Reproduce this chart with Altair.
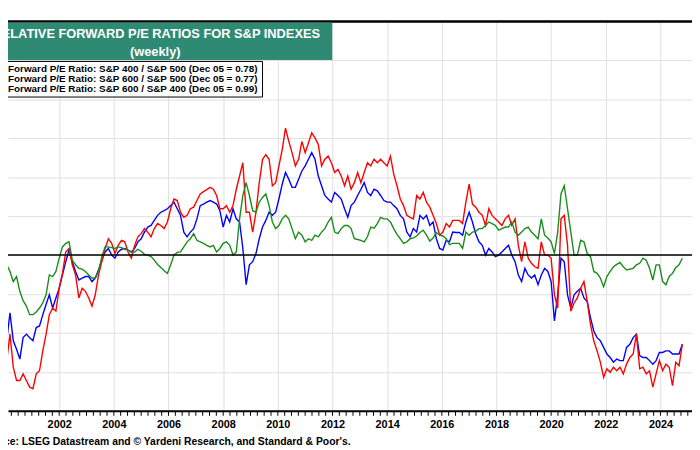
import altair as alt
import pandas as pd

series_names = [
    "Forward P/E Ratio: S&P 400 / S&P 500 (Dec 05 = 0.78)",
    "Forward P/E Ratio: S&P 600 / S&P 500 (Dec 05 = 0.77)",
    "Forward P/E Ratio: S&P 600 / S&P 400 (Dec 05 = 0.99)",
]
series_colors = ["#0000ff", "#ff0000", "#1a8c1a"]

start_year = 1999.84
step_years = 0.12

blue = [
    0.763, 0.733, 0.780, 0.852, 0.780, 0.758, 0.733, 0.788, 0.797, 0.788,
    0.780, 0.814, 0.818, 0.847, 0.873, 0.898, 0.864, 0.890, 0.915, 0.949,
    0.983, 1.013, 0.983, 0.958, 0.936, 0.941, 0.945, 0.945, 0.932, 0.941,
    0.962, 0.987, 1.008, 1.017, 1.000, 0.992, 1.008, 1.015, 1.017, 1.013,
    1.008, 1.017, 1.034, 1.042, 1.059, 1.072, 1.076, 1.089, 1.102, 1.110,
    1.114, 1.119, 1.127, 1.136, 1.119, 1.102, 1.059, 1.047, 1.059, 1.068,
    1.093, 1.127, 1.131, 1.136, 1.140, 1.136, 1.131, 1.114, 1.072,
    1.102, 1.085, 1.119, 1.093, 1.085, 1.017, 0.924, 0.975, 0.983, 1.004,
    1.042, 1.072, 1.089, 1.110, 1.102, 1.110, 1.144, 1.182, 1.212, 1.195,
    1.174, 1.174, 1.195, 1.216, 1.229, 1.246, 1.263, 1.246, 1.203, 1.178,
    1.153, 1.144, 1.136, 1.161, 1.153, 1.144, 1.119, 1.097, 1.127, 1.136,
    1.153, 1.169, 1.186, 1.161, 1.153, 1.169, 1.165, 1.153, 1.140, 1.136,
    1.136, 1.127, 1.119, 1.102, 1.093, 1.059, 1.047, 1.068, 1.059, 1.102,
    1.093, 1.102, 1.076, 1.085, 1.042, 1.017, 1.013, 1.038, 1.034, 1.059,
    1.058, 1.058, 1.051, 1.085, 1.110, 1.085, 1.055, 1.034, 1.025, 1.000,
    1.017, 1.008, 0.996, 1.000, 1.008, 1.017, 1.025, 1.000, 0.983, 0.949,
    0.932, 0.966, 0.949, 0.941, 0.949, 0.924, 0.949, 0.966, 0.958, 0.932,
    0.831, 0.898, 0.992, 0.983, 0.898, 0.864, 0.898, 0.907, 0.915, 0.890,
    0.881, 0.839, 0.805, 0.788, 0.780, 0.763, 0.746, 0.737, 0.725, 0.733,
    0.729, 0.729, 0.763, 0.771, 0.788, 0.797, 0.742, 0.737, 0.737, 0.729,
    0.720, 0.729, 0.750, 0.750, 0.754, 0.754, 0.746, 0.746, 0.746, 0.771,
]

red = [
    0.678, 0.661, 0.729, 0.797, 0.712, 0.678, 0.678, 0.695, 0.678, 0.661,
    0.657, 0.695, 0.703, 0.754, 0.797, 0.847, 0.864, 0.856, 0.915, 0.953,
    1.008, 1.017, 0.975, 0.949, 0.890, 0.915, 0.907, 0.890, 0.869, 0.898,
    0.949, 0.983, 1.017, 1.042, 1.030, 1.004, 1.025, 1.038, 1.034, 1.008,
    0.992, 1.025, 1.047, 1.055, 1.068, 1.059, 1.047, 1.068, 1.081, 1.076,
    1.068, 1.085, 1.119, 1.144, 1.140, 1.110, 1.097, 1.102, 1.119, 1.123,
    1.140, 1.157, 1.163, 1.168, 1.174, 1.169, 1.153, 1.119, 1.119,
    1.127, 1.110, 1.127, 1.169, 1.203, 1.237, 1.110, 1.110, 1.059, 1.110,
    1.186, 1.246, 1.258, 1.246, 1.178, 1.186, 1.229, 1.271, 1.326, 1.292,
    1.263, 1.229, 1.246, 1.292, 1.263, 1.288, 1.314, 1.301, 1.284, 1.229,
    1.246, 1.254, 1.237, 1.212, 1.220, 1.203, 1.178, 1.203, 1.169, 1.186,
    1.212, 1.186, 1.212, 1.237, 1.229, 1.246, 1.237, 1.246, 1.237, 1.229,
    1.254, 1.208, 1.178, 1.144, 1.127, 1.102, 1.097, 1.093, 1.153, 1.144,
    1.161, 1.136, 1.123, 1.102, 1.081, 1.051, 1.059, 1.081, 1.072, 1.089,
    1.089, 1.089, 1.081, 1.136, 1.182, 1.131, 1.123, 1.110, 1.102, 1.076,
    1.119, 1.102, 1.093, 1.085, 1.076, 1.093, 1.102, 1.076, 1.093, 1.025,
    0.983, 1.034, 0.992, 0.979, 0.970, 0.966, 1.034, 1.000, 1.000, 0.992,
    0.898, 0.864, 1.093, 1.102, 1.025, 0.856, 0.877, 0.890, 0.915, 0.932,
    0.881, 0.822, 0.780, 0.754, 0.725, 0.686, 0.708, 0.699, 0.712, 0.703,
    0.712, 0.695, 0.720, 0.737, 0.746, 0.797, 0.708, 0.712, 0.695, 0.703,
    0.661, 0.695, 0.729, 0.703, 0.720, 0.712, 0.665, 0.725, 0.716, 0.771,
]

green = [
    0.898, 0.915, 0.975, 0.958, 0.932, 0.945, 0.907, 0.883, 0.869, 0.847,
    0.847, 0.854, 0.864, 0.877, 0.898, 0.949, 0.945, 0.958, 0.992, 1.021,
    1.030, 1.034, 0.987, 0.975, 0.966, 0.964, 0.958, 0.949, 0.941, 0.941,
    0.958, 0.996, 1.021, 1.021, 1.019, 1.017, 1.021, 1.019, 1.015, 1.013,
    1.007, 1.008, 1.015, 1.010, 1.002, 1.000, 0.996, 0.987, 0.976, 0.968,
    0.960, 0.953, 0.975, 1.000, 1.007, 1.008, 1.021, 1.034, 1.042, 1.055,
    1.038, 1.034, 1.030, 1.025, 1.021, 1.025, 1.008, 1.017, 1.030,
    1.034, 1.025, 1.000, 1.008, 1.093, 1.153, 1.186, 1.153, 1.114, 1.110,
    1.136, 1.148, 1.157, 1.127, 1.085, 1.068, 1.076, 1.093, 1.102, 1.093,
    1.068, 1.042, 1.059, 1.051, 1.034, 1.042, 1.038, 1.051, 1.047, 1.059,
    1.068, 1.085, 1.097, 1.059, 1.055, 1.068, 1.076, 1.076, 1.068, 1.042,
    1.040, 1.038, 1.034, 1.047, 1.072, 1.069, 1.081, 1.097, 1.093, 1.093,
    1.085, 1.068, 1.053, 1.042, 1.030, 1.034, 1.042, 1.044, 1.049, 1.058,
    1.064, 1.051, 1.036, 1.044, 1.058, 1.051, 1.049, 1.042, 1.027, 1.030,
    1.030, 1.030, 1.017, 1.059, 1.051, 1.059, 1.061, 1.068, 1.068, 1.076,
    1.085, 1.081, 1.076, 1.064, 1.068, 1.072, 1.072, 1.085, 1.059, 1.051,
    1.059, 1.068, 1.072, 1.059, 1.051, 1.042, 1.093, 1.051, 1.044, 1.034,
    1.004, 1.059, 1.157, 1.178, 1.119, 1.059, 1.000, 1.000, 1.038, 1.034,
    1.004, 0.996, 0.958, 0.953, 0.941, 0.919, 0.945, 0.958, 0.970, 0.976,
    0.981, 0.970, 0.962, 0.964, 0.966, 0.975, 0.979, 0.992, 0.987, 0.966,
    0.936, 0.975, 0.975, 0.932, 0.924, 0.945, 0.953, 0.968, 0.975, 0.992,
]

year_labels = list(range(2000, 2025, 2))
quarter_ticks = [2000 + q / 4 for q in range(1, 101)]
grid_values = [0.6, 0.7, 0.8, 0.9, 1.0, 1.1, 1.2, 1.3, 1.4, 1.5, 1.6]
reference_value = [1.0]

title_line1 = "RELATIVE FORWARD P/E RATIOS FOR S&P INDEXES"
title_line2 = "(weekly)"
source_text = "Source: LSEG Datastream and \u00a9 Yardeni Research, and Standard & Poor's."

FONT = "Liberation Sans"
W, H = 692, 394

n = min(len(blue), len(red), len(green))
years = [round(start_year + step_years * i, 3) for i in range(n)]
rows = []
for name, vals in zip(series_names, [blue, red, green]):
    for t, v in zip(years, vals[:n]):
        rows.append({"t": t, "v": v, "series": name})
df = pd.DataFrame(rows)

xscale = alt.Scale(domain=[2000.127, 2025.154], nice=False, zero=False)
yscale = alt.Scale(domain=[0.6, 1.6], nice=False, zero=False)

x_axis = alt.Axis(
    values=year_labels, format="d", title=None, grid=True,
    gridColor="#e0e0e0", gridWidth=1, labelFont=FONT, labelFontSize=11,
    labelFontWeight="bold", labelColor="black", domainColor="black",
    domainWidth=2, ticks=False, labelPadding=8, labelFlush=False,
    labelOverlap=False,
)
y_axis = alt.Axis(
    values=grid_values, labels=False, ticks=False, domain=False,
    title=None, grid=True, gridColor="#e0e0e0", gridWidth=1,
)

lines = alt.Chart(df).mark_line(strokeWidth=1.4, clip=True).encode(
    x=alt.X("t:Q", scale=xscale, axis=x_axis),
    y=alt.Y("v:Q", scale=yscale, axis=y_axis),
    color=alt.Color(
        "series:N",
        scale=alt.Scale(domain=series_names, range=series_colors),
        sort=series_names,
        legend=alt.Legend(
            title=None, orient="none", legendX=-16, legendY=40,
            direction="vertical", symbolType="stroke", symbolSize=49,
            symbolStrokeWidth=2, labelFont=FONT, labelFontSize=10,
            labelFontWeight="bold", labelColor="black", labelOffset=3,
            rowPadding=0, padding=3, strokeColor="black", fillColor="white",
            labelLimit=400,
        ),
    ),
)

ref_rule = alt.Chart(pd.DataFrame({"v": reference_value})).mark_rule(
    color="black", strokeWidth=1.5
).encode(y=alt.Y("v:Q", scale=yscale, axis=y_axis))

qtick = alt.Chart(pd.DataFrame({"t": quarter_ticks})).mark_rule(
    color="black", strokeWidth=1
).encode(
    x=alt.X("t:Q", scale=xscale, axis=x_axis),
    y=alt.value(H),
    y2=alt.value(H + 5),
)

one = pd.DataFrame({"k": [0]})
top_border = alt.Chart(one).mark_rule(color="black", strokeWidth=2.5).encode(
    x=alt.value(0), x2=alt.value(W), y=alt.value(0)
)
title_box = alt.Chart(one).mark_rect(color="#2f8a74").encode(
    x=alt.value(0), x2=alt.value(328), y=alt.value(1), y2=alt.value(39)
)
title1 = alt.Chart(one).mark_text(
    color="white", font=FONT, fontSize=13, fontWeight="bold",
    align="center", baseline="middle",
).encode(x=alt.value(150), y=alt.value(13), text=alt.value(title_line1))
title2 = alt.Chart(one).mark_text(
    color="white", font=FONT, fontSize=13, fontWeight="bold",
    align="center", baseline="middle",
).encode(x=alt.value(149), y=alt.value(31), text=alt.value(title_line2))
source = alt.Chart(one).mark_text(
    color="black", font=FONT, fontSize=10.5, fontWeight="bold",
    align="left", baseline="middle",
).encode(x=alt.value(-28), y=alt.value(H + 32), text=alt.value(source_text))

chart = alt.layer(
    lines, ref_rule, qtick, top_border, title_box, title1, title2, source
).properties(
    width=W,
    height=H,
    autosize=alt.AutoSizeParams(type="none"),
    padding={"left": 0, "top": 11, "right": 0, "bottom": 35},
    background="white",
).configure_view(strokeWidth=0)

chart.save("out.html", embed_options={"renderer": "svg", "actions": False})
